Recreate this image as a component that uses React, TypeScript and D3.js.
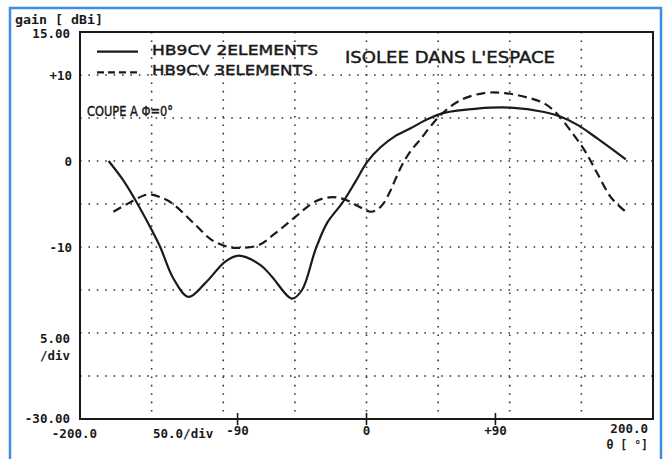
import React from "react";
import * as d3 from "d3";

// Series 1: HB9CV 2 elements (solid)
const theta2 = [-180, -170, -161.5, -150, -144, -135, -124.3, -112.6, -98.6, -89.3, -74, -66, -52, -45, -35.7, -27.5, -17, -7.7, 0.5, 9.8, 20, 30.8, 42.4, 54, 77.4, 100.7, 124, 135.7, 147.3, 161.3, 181];
const gain2 = [0, -2.2, -4.5, -8.0, -10.0, -13.6, -15.8, -14.2, -11.7, -11.0, -12.1, -13.45, -16.0, -15.0, -10.35, -7.2, -4.9, -2.4, -0.1, 1.6, 2.9, 3.8, 4.85, 5.6, 6.1, 6.2, 5.7, 5.15, 4.2, 2.6, 0.2];

// Series 2: HB9CV 3 elements (dashed)
const theta3 = [-176.7, -166, -154.5, -150, -144, -135.9, -119.6, -107.9, -96.3, -89, -75.5, -63.6, -49.7, -35.7, -24, -14.7, -5.4, 2.8, 8, 12, 16, 20, 25, 31, 38, 45, 54, 66, 82, 96, 112, 124, 133, 143, 152, 161, 171, 181];
const gain3 = [-5.9, -4.9, -3.95, -3.9, -4.2, -4.9, -7.4, -9.2, -10.0, -10.1, -9.8, -8.4, -6.5, -4.7, -4.2, -4.5, -5.3, -5.9, -5.6, -4.9, -3.7, -2.2, -0.4, 1.2, 2.6, 4.1, 5.7, 7.1, 7.9, 7.9, 7.4, 6.7, 5.5, 3.4, 1.3, -1.4, -4.3, -5.9];

const xGrid = [-150, -100, -50, 0, 50, 100, 150];
const yGrid = [10, 5, 0, -5, -10, -15, -20, -25];
const xTicks = [-90, 0, 90];
const xTickLabels = ["-90", "0", "+90"];
const yTickVals = [10, 0, -10];
const yTickLabels = ["+10", "0", "-10"];

const seriesNames = ["HB9CV 2ELEMENTS", "HB9CV 3ELEMENTS"];

export default function App() {
  const W = 669, H = 459;
  const L = 80, R = 653, T = 32, B = 419;
  const x = d3.scaleLinear().domain([-200, 200]).range([L, R]);
  const y = d3.scaleLinear().domain([-30, 15]).range([B, T]);
  const line = d3.line<[number, number]>().x(d => x(d[0])).y(d => y(d[1])).curve(d3.curveCatmullRom.alpha(0.5));
  const d2 = line(theta2.map((t, i) => [t, gain2[i]] as [number, number])) || "";
  const d3p = line(theta3.map((t, i) => [t, gain3[i]] as [number, number])) || "";
  const mono = "'DejaVu Sans Mono', monospace";
  const hand = "'DejaVu Sans', sans-serif";
  const ink = "#1a1a1a";
  return (
    <svg width={W} height={H} style={{ position: "absolute", left: 0, top: 0, background: "#fff" }}>
      <rect x={0} y={0} width={W} height={H} fill="#fdfdfd" />
      <rect x={10} y={8} width={651} height={470} fill="#fff" stroke="#3d8fe3" strokeWidth={2.5} />
      {/* grid */}
      {xGrid.map(v => (
        <line key={"gx" + v} x1={x(v)} x2={x(v)} y1={T} y2={B} stroke="#333" strokeWidth={1.6} strokeDasharray="1.6,6.8" />
      ))}
      {yGrid.map(v => (
        <line key={"gy" + v} x1={L} x2={R} y1={y(v)} y2={y(v)} stroke="#333" strokeWidth={1.6} strokeDasharray="1.6,6.8" />
      ))}
      {/* frame */}
      <rect x={L} y={T} width={R - L} height={B - T} fill="none" stroke={ink} strokeWidth={2} />
      {/* x ticks */}
      {xTicks.map(v => (
        <line key={"tx" + v} x1={x(v)} x2={x(v)} y1={B - 6} y2={B + 6} stroke={ink} strokeWidth={1.6} />
      ))}
      {/* curves */}
      <path d={d2} fill="none" stroke={ink} strokeWidth={2.2} />
      <path d={d3p} fill="none" stroke={ink} strokeWidth={2.2} strokeDasharray="9,5" />
      {/* axis texts */}
      <g fontFamily={mono} fontWeight="bold" fontSize={12.5} fill={ink}>
        <text x={15} y={24} textLength={88} lengthAdjust="spacingAndGlyphs">gain [ dBi]</text>
        <text x={70} y={38} textAnchor="end">15.00</text>
        {yTickVals.map((v, i) => (
          <text key={"yl" + v} x={72} y={y(v) + 4.5} textAnchor="end">{yTickLabels[i]}</text>
        ))}
        <text x={70} y={343} textAnchor="end">5.00</text>
        <text x={70} y={360} textAnchor="end">/div</text>
        <text x={70} y={423} textAnchor="end">-30.00</text>
        <text x={97} y={438} textAnchor="end">-200.0</text>
        <text x={153} y={438}>50.0/div</text>
        {xTicks.map((v, i) => (
          <text key={"xl" + v} x={x(v)} y={435} textAnchor="middle">{xTickLabels[i]}</text>
        ))}
        <text x={648} y={433} textAnchor="end">200.0</text>
        <text x={648} y={449} textAnchor="end" fontSize={11.5}>θ [ °]</text>
      </g>
      {/* legend */}
      <line x1={97} x2={138} y1={51.7} y2={51.7} stroke={ink} strokeWidth={2.2} />
      <line x1={97} x2={138} y1={72.3} y2={72.3} stroke={ink} strokeWidth={2.2} strokeDasharray="7,4" />
      <g fontFamily={hand} fontSize={14.5} fill={ink} stroke={ink} strokeWidth={0.45}>
        <text x={152} y={55} textLength={166} lengthAdjust="spacingAndGlyphs">{seriesNames[0]}</text>
        <text x={152} y={75} textLength={161} lengthAdjust="spacingAndGlyphs">{seriesNames[1]}</text>
        <text x={345} y={63} fontSize={16} textLength={210} lengthAdjust="spacingAndGlyphs">ISOLEE DANS L'ESPACE</text>
        <text x={87} y={116} fontSize={14} textLength={86} lengthAdjust="spacingAndGlyphs">COUPE A Φ=0°</text>
      </g>
    </svg>
  );
}
